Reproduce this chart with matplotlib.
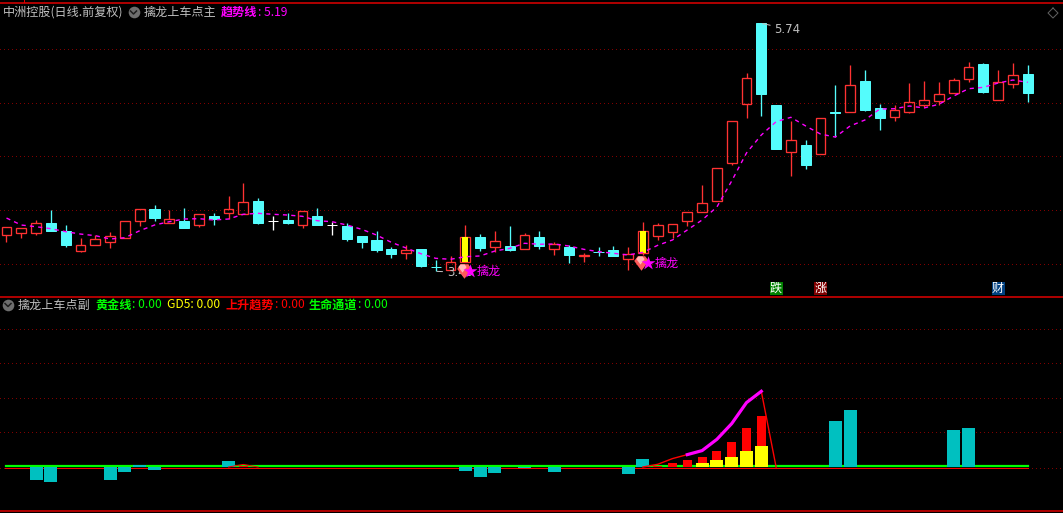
import matplotlib
matplotlib.use("Agg")
import matplotlib.pyplot as plt
import numpy as np
from matplotlib.lines import Line2D

plt.rcParams['font.family'] = ['Noto Sans CJK SC', 'DejaVu Sans']

# daily prices, one entry per trading day
opens = [3.771, 3.790, 3.790, 3.880, 3.803, 3.622, 3.678, 3.706, 3.743, 3.901,
         4.007, 3.883, 3.898, 3.864, 3.945, 3.973, 3.966, 4.085, 3.898, 3.908,
         3.864, 3.945, 3.861, 3.852, 3.759, 3.722, 3.638, 3.603, 3.638, 3.467,
         3.442, 3.520, 3.750, 3.656, 3.666, 3.638, 3.750, 3.638, 3.656, 3.570,
         3.610, 3.628, 3.545, 3.601, 3.759, 3.796, 3.898, 3.982, 4.085, 4.441,
         4.991, 5.742, 4.978, 4.544, 4.606, 4.525, 4.912, 4.916, 5.202, 4.951,
         4.870, 4.916, 4.981, 5.018, 5.093, 5.223, 5.360, 5.028, 5.177, 5.267]
closes = [3.840, 3.833, 3.877, 3.808, 3.678, 3.672, 3.728, 3.756, 3.896, 4.007,
          3.926, 3.914, 3.833, 3.961, 3.914, 4.007, 4.073, 3.880, 3.898, 3.880,
          3.989, 3.861, 3.861, 3.731, 3.703, 3.628, 3.591, 3.628, 3.480, 3.467,
          3.514, 3.747, 3.647, 3.712, 3.628, 3.768, 3.666, 3.684, 3.582, 3.580,
          3.610, 3.573, 3.591, 3.805, 3.861, 3.871, 3.982, 4.066, 4.392, 4.827,
          5.227, 5.084, 4.569, 4.650, 4.420, 4.855, 4.902, 5.162, 4.932, 4.857,
          4.929, 5.004, 5.022, 5.078, 5.208, 5.329, 5.099, 5.190, 5.255, 5.090]
highs = [3.840, 3.833, 3.905, 3.999, 3.861, 3.737, 3.768, 3.796, 3.896, 4.007,
         4.047, 3.999, 4.020, 3.961, 3.973, 4.131, 4.252, 4.113, 3.945, 3.973,
         3.989, 4.020, 3.889, 3.877, 3.759, 3.805, 3.656, 3.675, 3.638, 3.535,
         3.573, 3.861, 3.777, 3.805, 3.852, 3.787, 3.805, 3.703, 3.675, 3.600,
         3.656, 3.666, 3.656, 3.889, 3.880, 3.871, 3.982, 4.234, 4.392, 4.827,
         5.276, 5.740, 4.978, 4.827, 4.653, 4.855, 5.165, 5.351, 5.304, 4.988,
         4.978, 5.183, 5.202, 5.193, 5.227, 5.379, 5.369, 5.304, 5.369, 5.351]
lows = [3.706, 3.743, 3.771, 3.808, 3.659, 3.613, 3.678, 3.650, 3.743, 3.855,
        3.901, 3.877, 3.833, 3.845, 3.861, 3.920, 3.961, 3.871, 3.815, 3.871,
        3.833, 3.861, 3.768, 3.712, 3.647, 3.610, 3.554, 3.545, 3.470, 3.430,
        3.442, 3.520, 3.619, 3.610, 3.619, 3.638, 3.638, 3.582, 3.507, 3.517,
        3.573, 3.573, 3.442, 3.582, 3.722, 3.740, 3.852, 3.982, 4.085, 4.420,
        4.860, 4.876, 4.569, 4.320, 4.383, 4.525, 4.680, 4.916, 4.923, 4.746,
        4.829, 4.904, 4.960, 4.978, 5.093, 5.193, 5.090, 5.028, 5.137, 5.006]
trend = [3.926, 3.861, 3.845, 3.827, 3.799, 3.777, 3.762, 3.731, 3.743, 3.808,
         3.861, 3.892, 3.917, 3.920, 3.908, 3.917, 3.961, 3.970, 3.961, 3.954,
         3.942, 3.901, 3.892, 3.861, 3.821, 3.768, 3.700, 3.647, 3.594, 3.551,
         3.542, 3.566, 3.573, 3.619, 3.644, 3.691, 3.682, 3.684, 3.666, 3.635,
         3.613, 3.598, 3.582, 3.607, 3.672, 3.722, 3.815, 3.908, 4.029, 4.271,
         4.532, 4.699, 4.823, 4.864, 4.783, 4.708, 4.680, 4.783, 4.839, 4.941,
         4.944, 4.969, 4.951, 4.985, 5.062, 5.130, 5.143, 5.183, 5.211, 5.190]

white_doji = [18, 22]
cyan_doji = [29, 40]
signal_days = [31, 43]
price_grid = [5.5, 5.0, 4.5, 4.0, 3.5]
event_days = [52, 55, 67]
event_labels = ['跌', '涨', '财']
event_colors = ['#008000', '#800000', '#004080']

# lower panel
teal_days = [2, 3, 7, 8, 9, 10, 15, 31, 32, 33, 35, 37, 42, 43, 56, 57, 64, 65]
teal_vals = [-0.367, -0.425, -0.367, -0.136, 0.066, -0.078, 0.182, -0.116, -0.289,
             -0.173, -0.029, -0.145, -0.211, 0.223, 1.321, 1.639, 1.061, 1.118]
red_days = [16, 44, 45, 46, 47, 48, 49, 50, 51]
red_vals = [0.04, 0.029, 0.107, 0.194, 0.280, 0.454, 0.714, 1.118, 1.465]
yellow_days = [47, 48, 49, 50, 51]
yellow_vals = [0.107, 0.194, 0.280, 0.454, 0.598]
rise_days = [15, 16, 17, 43, 44, 45, 46, 47, 48, 49, 50, 51, 52]
rise_vals = [0.0, 0.075, 0.0, 0.0, 0.078, 0.243, 0.358, 0.474, 0.801, 1.254, 1.861, 2.188, 0.0]
gold_days = [46, 47, 48, 49, 50, 51]
gold_vals = [0.358, 0.474, 0.801, 1.254, 1.861, 2.188]
lower_grid = [1, 2, 3, 4]

W, H = 1063, 513
STEP = 14.8
BORDER = '#E00000'
GRID = '#800000'
RED = '#FF3232'
CYAN = '#54FCFC'
ONE_PX = 0.72
EDGE = 0.95


def make_axes(fig, top, bottom, ylim):
    ax = fig.add_axes([0, 1 - bottom / H, 1, (bottom - top) / H])
    ax.set_facecolor('black')
    ax.set_xlim(-6.5 / STEP, (W - 6.5) / STEP)
    ax.set_ylim(*ylim)
    ax.axis('off')
    return ax


def draw_candles(ax):
    for i in range(len(opens)):
        o, c, h, l = opens[i], closes[i], highs[i], lows[i]
        top, bot = max(o, c), min(o, c)
        if i in white_doji:
            color = 'white'
        elif i in cyan_doji or c < o:
            color = CYAN
        else:
            color = RED
        ax.vlines(i, top, h, color=color, lw=EDGE)
        ax.vlines(i, l, bot, color=color, lw=EDGE)
        if color == RED:
            ax.bar(i, top - bot, 0.65, bot, facecolor='none', edgecolor=color,
                   lw=EDGE, zorder=3)
        else:
            ax.bar(i, top - bot, 0.7, bot, facecolor=color, edgecolor=color,
                   lw=ONE_PX, zorder=3)
        if i in signal_days:
            ax.bar(i, top - bot, 0.38, bot, color='#FFFF00', zorder=3)


def draw_signal(ax, day, price):
    gem = [(-1, 0.35), (-0.5, 1), (0.5, 1), (1, 0.35), (0, -1)]
    ax.scatter([day - 0.12], [price], marker=gem, s=110, color='#FF5A5A', lw=0, zorder=6)
    ax.scatter([day - 0.2], [price + 0.03], marker=gem, s=35, color='#FFB8B8', lw=0, zorder=6)
    ax.scatter([day + 0.32], [price], marker='*', s=110, color='#FF00FF', lw=0, zorder=7)
    ax.text(day + 0.78, price, '擒龙', color='#FF00FF', fontsize=8.7, va='center', zorder=7)


def upper_panel(fig):
    ax = make_axes(fig, 2.5, 296.5, (5.956 - 0.00931 * 296.5, 5.956 - 0.00931 * 2.5))
    for p in price_grid:
        ax.axhline(p, color=GRID, lw=ONE_PX, ls=(0, (1, 3)), antialiased=False, zorder=1)
    draw_candles(ax)
    ax.plot(range(len(trend)), trend, color='#FF00FF', lw=1.0, ls=(0, (3, 3)), zorder=5)

    hi_day = int(np.argmax(highs))
    lo_day = int(np.argmin(lows))
    for day, val, dx, dy in [(hi_day, highs[hi_day], 13, -6), (lo_day, lows[lo_day], 11, -1)]:
        ax.annotate(f'{val:.2f}', xy=(day, val), xytext=(dx, dy), textcoords='offset pixels',
                    color='#C0C0C0', fontsize=8.5, va='center', family='DejaVu Sans', zorder=6,
                    arrowprops=dict(arrowstyle='-', color='#C0C0C0', lw=ONE_PX, shrinkA=1, shrinkB=1))

    draw_signal(ax, signal_days[0], 3.43)
    draw_signal(ax, signal_days[1], 3.507)

    for day, label, color in zip(event_days, event_labels, event_colors):
        ax.bar(day, 0.121, 13 / STEP, 3.21, color=color, zorder=6)
        ax.text(day, 3.27, label, color='white', fontsize=8.7, ha='center', va='center', zorder=7)
    return ax


def lower_panel(fig):
    ax = make_axes(fig, 296.5, 510, ((467 - 510) / 34.6, (467 - 296.5) / 34.6))
    for v in lower_grid:
        ax.axhline(v, color=GRID, lw=ONE_PX, ls=(0, (1, 3)), antialiased=False, zorder=1)
    ax.axhline(-0.015, color=GRID, lw=ONE_PX, ls=(0, (1, 3)), antialiased=False, zorder=1)
    last = len(opens) - 1
    ax.plot([-0.1, last], [-0.03, -0.03], color='#FF0000', lw=ONE_PX, zorder=2)
    ax.plot([0, last], [0.015, 0.015], color='#00FF00', lw=1.6, zorder=3)
    ax.bar(teal_days, teal_vals, 13 / STEP, color='#00C0C0', zorder=4)
    ax.bar(red_days, red_vals, 9 / STEP, color='#FF0000', zorder=4)
    ax.bar(yellow_days, yellow_vals, 13 / STEP, color='#FFFF00', zorder=5)
    ax.plot(rise_days[:3], rise_vals[:3], color='#FF0000', lw=ONE_PX, zorder=6)
    ax.plot(rise_days[3:], rise_vals[3:], color='#FF0000', lw=1.0, zorder=6)
    ax.plot(gold_days, gold_vals, color='#FF00FF', lw=2.3, zorder=7)
    return ax


def overlay(fig):
    # header texts and frame lines are placed in pixels
    ax = fig.add_axes([0, 0, 1, 1], facecolor='none')
    ax.set_xlim(0, W)
    ax.set_ylim(H, 0)
    ax.axis('off')
    for y in [2.5, 296.5, 510.5]:
        ax.add_line(Line2D([0, W], [y, y], color=BORDER, lw=1.1))
    ax.add_line(Line2D([23.5, 23.5], [0, 2], color=BORDER, lw=ONE_PX))

    heads = [(3, 12, '中洲控股(日线.前复权)', '#C0C0C0', 'normal'),
             (144, 12, '擒龙上车点主', '#C0C0C0', 'normal'),
             (221, 12, '趋势线', '#FF00FF', 'bold'), (258, 12, ': 5.19', '#FF00FF', 'normal'),
             (18, 305, '擒龙上车点副', '#C0C0C0', 'normal'),
             (95, 305, '黄金线', '#00FF00', 'bold'), (132, 305, ': 0.00', '#00FF00', 'normal'),
             (167, 305, 'GD5: 0.00', '#FFFF00', 'normal'),
             (226, 305, '上升趋势', '#FF0000', 'bold'), (275, 305, ': 0.00', '#FF0000', 'normal'),
             (309, 305, '生命通道', '#00FF00', 'bold'), (358, 305, ': 0.00', '#00FF00', 'normal')]
    for x, y, s, color, weight in heads:
        ax.text(x, y, s, color=color, fontsize=8.7, va='center', fontweight=weight)

    for cx, cy in [(133.5, 12), (8, 304.5)]:
        ax.scatter([cx], [cy], s=70, color='#6E6E6E', lw=0)
        ax.plot([cx - 3, cx, cx + 3], [cy - 1, cy + 2, cy - 1], color='#1E1E1E', lw=1.1)

    ax.plot([1053, 1058, 1053, 1048, 1053], [8, 13, 18, 13, 8], color='#606060', lw=ONE_PX)


def main():
    fig = plt.figure(figsize=(W / 100, H / 100), dpi=100, facecolor='black')
    upper_panel(fig)
    lower_panel(fig)
    overlay(fig)
    fig.savefig('out.png', dpi=100, facecolor='black')


if __name__ == '__main__':
    main()
